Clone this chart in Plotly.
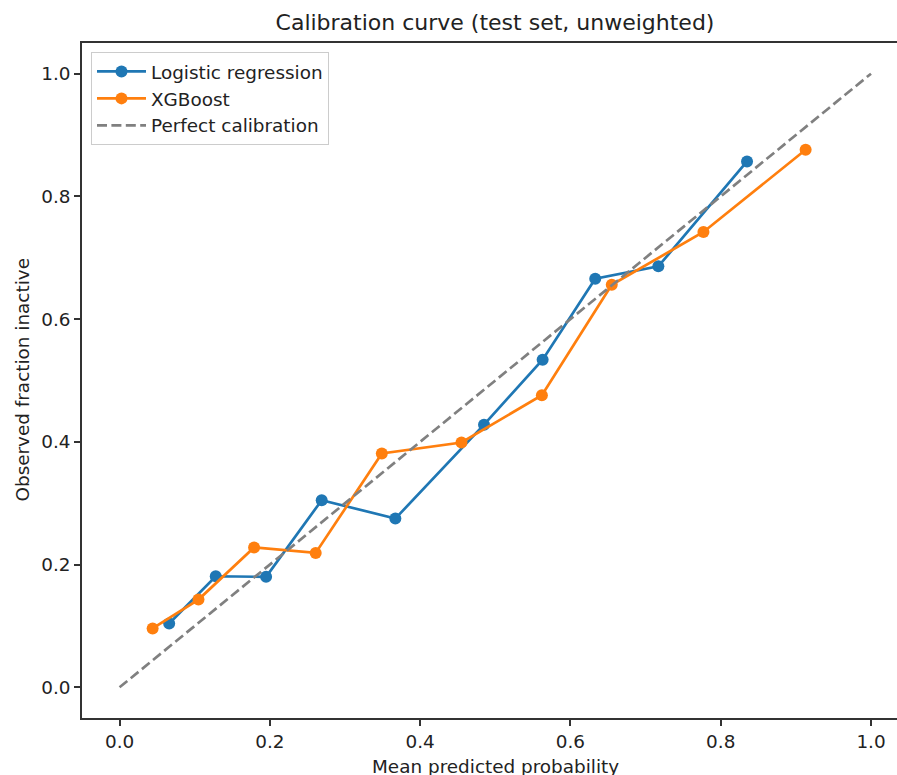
import plotly.graph_objects as go

# Data
lr_x = [0.066, 0.128, 0.195, 0.269, 0.367, 0.485, 0.563, 0.633, 0.717, 0.835]
lr_y = [0.104, 0.181, 0.180, 0.305, 0.275, 0.428, 0.534, 0.666, 0.686, 0.857]
xgb_x = [0.044, 0.105, 0.179, 0.261, 0.349, 0.455, 0.562, 0.655, 0.777, 0.913]
xgb_y = [0.096, 0.143, 0.228, 0.219, 0.381, 0.399, 0.476, 0.656, 0.742, 0.876]
diag = [0.0, 1.0]
tick_vals = [0.0, 0.2, 0.4, 0.6, 0.8, 1.0]
tick_text = ["0.0", "0.2", "0.4", "0.6", "0.8", "1.0"]

FONT = "DejaVu Sans, Verdana, sans-serif"
W, H = 897, 775
L, R, T, B = 82, 0, 43, 57

fig = go.Figure()
fig.add_trace(go.Scatter(x=lr_x, y=lr_y, mode="lines+markers", name="Logistic regression",
                         line=dict(color="#1f77b4", width=2.7),
                         marker=dict(color="#1f77b4", size=12)))
fig.add_trace(go.Scatter(x=xgb_x, y=xgb_y, mode="lines+markers", name="XGBoost",
                         line=dict(color="#ff7f0e", width=2.7),
                         marker=dict(color="#ff7f0e", size=12)))
fig.add_trace(go.Scatter(x=diag, y=diag, mode="lines", name="Perfect calibration",
                         line=dict(color="#808080", width=2.7, dash="10px,4.4px")))

axis_common = dict(showgrid=False, zeroline=False, showline=True, linecolor="#333333",
                   linewidth=1.5, ticks="outside", ticklen=6, tickwidth=1.5, tickcolor="#333333",
                   tickvals=tick_vals, ticktext=tick_text,
                   tickfont=dict(family=FONT, size=18.4, color="#222222"))

fig.update_layout(
    width=W, height=H,
    margin=dict(l=L, r=R, t=T, b=B),
    paper_bgcolor="white", plot_bgcolor="white",
    font=dict(family=FONT, size=18.4, color="#222222"),
    title=dict(text="Calibration curve (test set, unweighted)", xref="container", x=495 / W,
               xanchor="center", yref="container", y=1 - 22 / H, yanchor="middle",
               font=dict(family=FONT, size=22, color="#222222")),
    xaxis=dict(range=[-0.05, (W - 119.5) / 751.5], mirror=True, **axis_common),
    yaxis=dict(range=[-0.05, 1.05], mirror=False, **axis_common),
    showlegend=True,
    legend=dict(x=(91 - L) / (W - L), y=1 - (52 - T) / (H - T - B), xanchor="left", yanchor="top",
                bgcolor="rgba(255,255,255,0.8)", bordercolor="#cccccc", borderwidth=1,
                itemwidth=49,
                font=dict(family=FONT, size=18.4, color="#222222")),
    annotations=[
        dict(text="Mean predicted probability", xref="x", x=0.5, yref="paper", y=0,
             yanchor="top", yshift=-36, showarrow=False,
             font=dict(family=FONT, size=18.4, color="#222222")),
        dict(text="Observed fraction inactive", xref="paper", x=(22 - L) / (W - L), xanchor="center",
             yref="y", y=0.5, yanchor="middle", textangle=-90, showarrow=False,
             font=dict(family=FONT, size=18.4, color="#222222")),
    ],
)

fig.write_html("out.html", config={"displayModeBar": False},
               post_script="document.body.style.margin='0px';document.body.style.overflow='hidden';")
